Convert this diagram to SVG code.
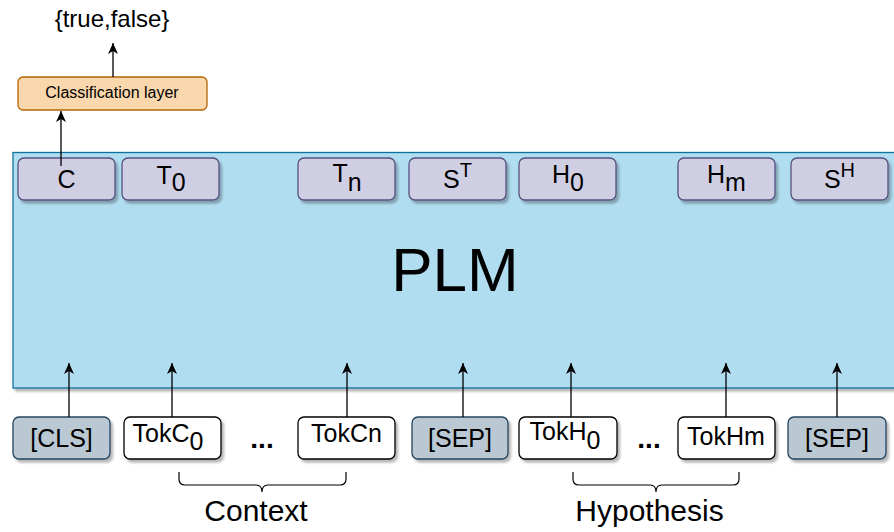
<svg xmlns="http://www.w3.org/2000/svg" width="894" height="532" viewBox="0 0 894 532">
<style>
  text { font-family: "Liberation Sans", Arial, Helvetica, sans-serif; fill: #000; }
  .t24 { font-size: 25px; text-anchor: middle; }
  .top { fill: #d0cee2; stroke: #56517e; stroke-width: 1.3; }
  .gray { fill: #bac8d3; stroke: #23445d; stroke-width: 1.3; }
  .white { fill: #ffffff; stroke: #000000; stroke-width: 1.3; }
  .conn { stroke: #000; stroke-width: 1.3; fill: none; }
  .brace { stroke: #000; stroke-width: 1.2; fill: none; }
  .dots { font-size: 28px; font-weight: bold; text-anchor: middle; }
</style>
<defs>
  <filter id="sh" x="-10%" y="-10%" width="130%" height="140%">
    <feDropShadow dx="2.5" dy="3" stdDeviation="1.2" flood-color="#000" flood-opacity="0.28"/>
  </filter>
  <marker id="arr" markerUnits="userSpaceOnUse" markerWidth="14" markerHeight="14" refX="11" refY="5" orient="auto">
    <path d="M0,0 L11,5 L0,10 L3,5 z" fill="#000"/>
  </marker>
</defs>
<rect width="894" height="532" fill="#ffffff"/>

<g id="plm">
  <rect x="13" y="152.5" width="900" height="235.5" fill="#b1ddf0" stroke="#10739e" stroke-width="1.3" filter="url(#sh)"/>
  <text x="455" y="291" font-size="62" text-anchor="middle">PLM</text>
</g>

<g id="classification">
  <rect x="18" y="77" width="189" height="33" rx="5" fill="#fad7ac" stroke="#b46504" stroke-width="1.3"/>
  <text x="112" y="97.5" font-size="16" text-anchor="middle">Classification layer</text>
</g>

<g id="output">
  <text x="112" y="27" font-size="24" text-anchor="middle">{true,false}</text>
</g>

<g id="out-C"><rect class="top" x="18" y="158" width="97" height="42" rx="6" filter="url(#sh)"/><text class="t24" x="66.5" y="187.5">C</text></g>
<g id="out-T0"><rect class="top" x="122" y="158" width="97" height="42" rx="6" filter="url(#sh)"/><text class="t24" x="171" y="184">T<tspan dy="7">0</tspan></text></g>
<g id="out-Tn"><rect class="top" x="298" y="158" width="97" height="42" rx="6" filter="url(#sh)"/><text class="t24" x="347" y="182">T<tspan dy="9">n</tspan></text></g>
<g id="out-ST"><rect class="top" x="409" y="158" width="97" height="42" rx="6" filter="url(#sh)"/><text class="t24" x="457.5" y="187.5">S<tspan dy="-11" font-size="20">T</tspan></text></g>
<g id="out-H0"><rect class="top" x="519" y="158" width="97" height="42" rx="6" filter="url(#sh)"/><text class="t24" x="568" y="183">H<tspan dy="8">0</tspan></text></g>
<g id="out-Hm"><rect class="top" x="678" y="158" width="97" height="42" rx="6" filter="url(#sh)"/><text class="t24" x="726.5" y="183">H<tspan dy="8">m</tspan></text></g>
<g id="out-SH"><rect class="top" x="791" y="158" width="97" height="42" rx="6" filter="url(#sh)"/><text class="t24" x="839.5" y="187.5">S<tspan dy="-11" font-size="20">H</tspan></text></g>

<g id="in-CLS"><rect class="gray" x="13" y="417" width="97" height="42" rx="6" filter="url(#sh)"/><text class="t24" x="61.5" y="446.5">[CLS]</text></g>
<g id="in-TokC0"><rect class="white" x="124" y="417" width="97" height="42" rx="6" filter="url(#sh)"/><text class="t24" x="168" y="441.5">TokC<tspan dy="8">0</tspan></text></g>
<g id="dots-context"><text class="dots" x="262" y="448">...</text></g>
<g id="in-TokCn"><rect class="white" x="298" y="417" width="97" height="42" rx="6" filter="url(#sh)"/><text class="t24" x="346.5" y="442">TokCn</text></g>
<g id="in-SEP1"><rect class="gray" x="412" y="417" width="96" height="42" rx="6" filter="url(#sh)"/><text class="t24" x="460" y="446.5">[SEP]</text></g>
<g id="in-TokH0"><rect class="white" x="519" y="417" width="98" height="42" rx="6" filter="url(#sh)"/><text class="t24" x="565" y="440">TokH<tspan dy="9">0</tspan></text></g>
<g id="dots-hyp"><text class="dots" x="649" y="448">...</text></g>
<g id="in-TokHm"><rect class="white" x="678" y="417" width="97" height="42" rx="6" filter="url(#sh)"/><text class="t24" x="726" y="445">TokHm</text></g>
<g id="in-SEP2"><rect class="gray" x="788" y="417" width="98" height="42" rx="6" filter="url(#sh)"/><text class="t24" x="837" y="446.5">[SEP]</text></g>

<g id="context">
  <path class="brace" d="M179,472 L179,479 Q179,485 185,485 L256,485 Q262,485 262,492 Q262,485 268,485 L340,485 Q346,485 346,479 L346,472"/>
  <text x="256" y="521" font-size="30" text-anchor="middle">Context</text>
</g>
<g id="hypothesis">
  <path class="brace" d="M573,472 L573,479 Q573,485 579,485 L650,485 Q656,485 656,492 Q656,485 662,485 L733,485 Q739,485 739,479 L739,472"/>
  <text x="649.5" y="521" font-size="30" text-anchor="middle">Hypothesis</text>
</g>

<g id="connectors">
  <line class="conn" x1="61" y1="166" x2="61" y2="111" marker-end="url(#arr)"/>
  <line class="conn" x1="113" y1="77" x2="113" y2="43" marker-end="url(#arr)"/>
  <line class="conn" x1="69" y1="417" x2="69" y2="363" marker-end="url(#arr)"/>
  <line class="conn" x1="172" y1="417" x2="172" y2="363" marker-end="url(#arr)"/>
  <line class="conn" x1="347" y1="417" x2="347" y2="363" marker-end="url(#arr)"/>
  <line class="conn" x1="463" y1="417" x2="463" y2="363" marker-end="url(#arr)"/>
  <line class="conn" x1="571" y1="417" x2="571" y2="363" marker-end="url(#arr)"/>
  <line class="conn" x1="726" y1="417" x2="726" y2="363" marker-end="url(#arr)"/>
  <line class="conn" x1="837" y1="417" x2="837" y2="363" marker-end="url(#arr)"/>
</g>
</svg>
